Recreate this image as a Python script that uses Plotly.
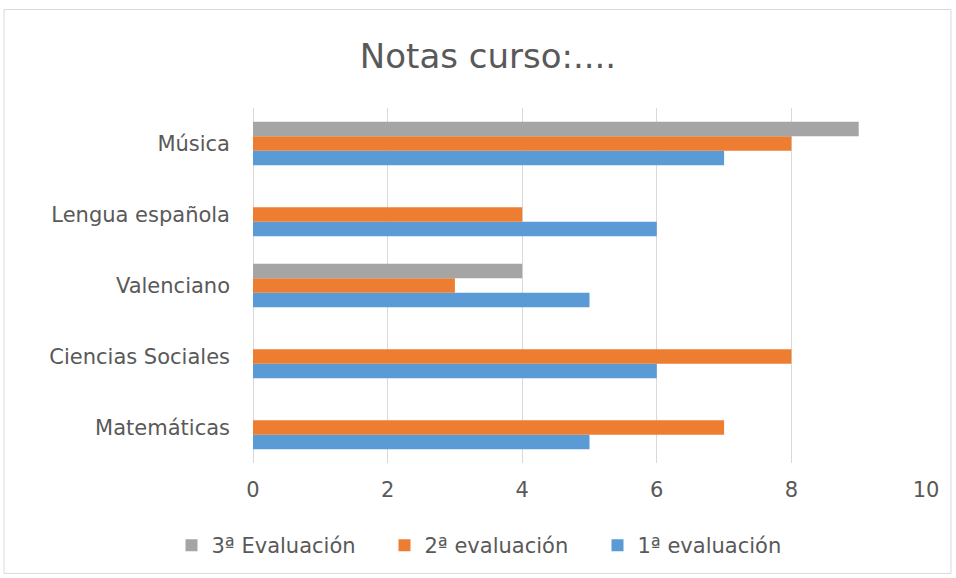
import plotly.graph_objects as go

categories = ["Matemáticas", "Ciencias Sociales", "Valenciano", "Lengua española", "Música"]
eval1 = [5, 6, 5, 6, 7]
eval2 = [7, 8, 3, 4, 8]
eval3 = [None, None, 4, None, 9]
series_names = ["1ª evaluación", "2ª evaluación", "3ª Evaluación"]
colors = ["#5B9BD5", "#ED7D31", "#A5A5A5"]
x_ticks = [0, 2, 4, 6, 8, 10]

FONT = "'DejaVu Sans', sans-serif"
TXT = "#595959"

fig = go.Figure()
for name, vals, col in zip(series_names, [eval1, eval2, eval3], colors):
    fig.add_trace(go.Bar(
        y=categories, x=vals, name=name, orientation="h",
        marker=dict(color=col, line=dict(width=0)),
    ))

W, H = 956, 578
ml, mr, mt, mb = 253, 30, 108, 113
pw, ph = W - ml - mr, H - mt - mb

fig.update_layout(
    width=W, height=H,
    margin=dict(l=ml, r=mr, t=mt, b=mb),
    barmode="group", bargap=0.39, bargroupgap=0,
    paper_bgcolor="white", plot_bgcolor="white",
    font=dict(family=FONT, color=TXT, size=21),
    title=dict(text="Notas curso:....", x=488 / W, xanchor="center",
               y=1 - 56 / H, yanchor="middle",
               font=dict(family=FONT, size=34, color=TXT)),
    xaxis=dict(range=[0, 10], tickvals=x_ticks, showgrid=True,
               gridcolor="#D9D9D9", gridwidth=1, zeroline=True,
               zerolinecolor="#D9D9D9", zerolinewidth=1,
               showline=False, ticks="", ticklabelstandoff=12,
               tickfont=dict(size=21, color=TXT)),
    yaxis=dict(showgrid=False, showline=False, ticks="", ticklen=0,
               ticklabelstandoff=22,
               tickfont=dict(size=21, color=TXT)),
    legend=dict(orientation="h", traceorder="reversed",
                x=(491 - ml) / pw, xanchor="center",
                y=-(548 - (H - mb)) / ph, yanchor="middle",
                font=dict(size=21, color=TXT), itemwidth=30,
                entrywidth=168, entrywidthmode="pixels"),
    showlegend=True,
)
# outer chart border
fig.add_shape(type="rect", xref="paper", yref="paper",
              x0=(4 - ml) / pw, x1=(951 - ml) / pw,
              y0=-(576 - (H - mb)) / ph, y1=((H - mb) - 9) / ph,
              line=dict(color="#D9D9D9", width=1), fillcolor="rgba(0,0,0,0)", layer="below")

fig.write_html("out.html", config={"displayModeBar": False})
with open("out.html", encoding="utf-8") as f:
    html = f.read()
html = html.replace("<head>", "<head><style>html,body{margin:0;padding:0;overflow:hidden;}</style>", 1)
with open("out.html", "w", encoding="utf-8") as f:
    f.write(html)
